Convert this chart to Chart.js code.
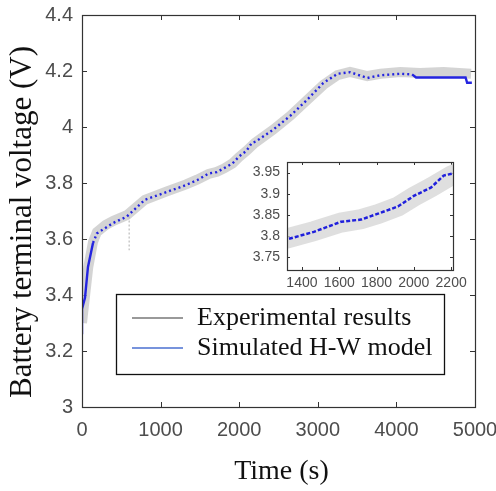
<!DOCTYPE html>
<html>
<head>
<meta charset="utf-8">
<script src="https://cdn.jsdelivr.net/npm/chart.js@4.4.0/dist/chart.umd.min.js"></script>
<style>
  html, body { margin: 0; padding: 0; background: #fff; }
  #wrap { position: relative; width: 496px; height: 491px; }
  #main { position: absolute; left: 0; top: 0; }
  #inset { position: absolute; left: 245px; top: 155px; }
</style>
</head>
<body>
<div id="wrap">
  <canvas id="main" width="496" height="491"></canvas>
  <canvas id="inset" width="230" height="145"></canvas>
</div>
<script>
// experimental results (centre of the grey band)
var expTime = [0, 40, 80, 140, 190, 300, 400, 570, 800, 1080, 1325, 1464, 1610, 1717, 1808, 1915, 2000, 2093, 2200, 2430, 2650, 2860, 3070, 3250, 3410, 3630, 3800, 4050, 4300, 4600, 4950];
var expVolt = [3.30, 3.40, 3.50, 3.59, 3.625, 3.65, 3.665, 3.685, 3.74, 3.77, 3.795, 3.812, 3.832, 3.84, 3.852, 3.87, 3.893, 3.915, 3.943, 3.99, 4.04, 4.095, 4.15, 4.185, 4.197, 4.182, 4.19, 4.196, 4.193, 4.196, 4.19];

// sensor drop-outs of the experimental trace
var dropTime = [0, 0, 300, 600, 600];
var dropVolt = [3.33, 3.14, null, 3.68, 3.56];

// simulated H-W model
var simTime = [0, 0, 38, 76, 140, 190, 395, 570, 800, 1080, 1325, 1464, 1610, 1717, 1808, 1915, 2000, 2093, 2160, 2210, 2430, 2650, 2860, 3070, 3250, 3410, 3630, 3800, 4050, 4200, 4250, 4880, 4900, 4960];
var simVolt = [3.26, 3.35, 3.39, 3.50, 3.586, 3.62, 3.657, 3.68, 3.74, 3.768, 3.793, 3.81, 3.834, 3.839, 3.853, 3.87, 3.895, 3.915, 3.943, 3.948, 3.99, 4.04, 4.096, 4.157, 4.19, 4.196, 4.175, 4.185, 4.19, 4.188, 4.177, 4.177, 4.158, 4.158];

var xTicks = [0, 1000, 2000, 3000, 4000, 5000];
var xTickLabels = ['0', '1000', '2000', '3000', '4000', '5000'];
var yTicks = [3, 3.2, 3.4, 3.6, 3.8, 4, 4.2, 4.4];
var yTickLabels = ['3', '3.2', '3.4', '3.6', '3.8', '4', '4.2', '4.4'];

var insetXTicks = [1400, 1600, 1800, 2000, 2200];
var insetXTickLabels = ['1400', '1600', '1800', '2000', '2200'];
var insetYTicks = [3.75, 3.8, 3.85, 3.9, 3.95];
var insetYTickLabels = ['3.75', '3.8', '3.85', '3.9', '3.95'];

var seriesLabels = ['Experimental results', 'Simulated H-W model'];
var xTitle = 'Time (s)';
var yTitle = 'Battery terminal voltage (V)';

function pts(xs, ys) {
    return xs.map(function (x, i) { return {x: x, y: ys[i]}; });
}

var tickFont = 'Liberation Sans, Arial, sans-serif';
var serifFont = 'Liberation Serif, Times New Roman, serif';

// box round the plot area plus MATLAB style inner tick marks
function boxPlugin(len) {
    return {
        id: 'box',
        beforeDatasetsDraw: function (chart) {
            var ctx = chart.ctx, a = chart.chartArea;
            ctx.save();
            ctx.strokeStyle = '#333';
            ctx.lineWidth = 1;
            chart.scales.x.ticks.forEach(function (t) {
                var px = Math.round(chart.scales.x.getPixelForValue(t.value)) + 0.5;
                ctx.beginPath();
                ctx.moveTo(px, a.bottom); ctx.lineTo(px, a.bottom - len);
                ctx.moveTo(px, a.top); ctx.lineTo(px, a.top + len);
                ctx.stroke();
            });
            chart.scales.y.ticks.forEach(function (t) {
                var py = Math.round(chart.scales.y.getPixelForValue(t.value)) + 0.5;
                ctx.beginPath();
                ctx.moveTo(a.left, py); ctx.lineTo(a.left + len, py);
                ctx.moveTo(a.right, py); ctx.lineTo(a.right - len, py);
                ctx.stroke();
            });
            ctx.restore();
        },
        afterDraw: function (chart) {
            var ctx = chart.ctx, a = chart.chartArea;
            ctx.save();
            ctx.strokeStyle = '#333';
            ctx.lineWidth = 1.2;
            ctx.strokeRect(Math.round(a.left) + 0.5, Math.round(a.top) + 0.5,
                Math.round(a.right - a.left), Math.round(a.bottom - a.top));
            ctx.restore();
        }
    };
}

var whiteArea = {
    id: 'whiteArea',
    beforeDraw: function (chart) {
        var a = chart.chartArea;
        chart.ctx.save();
        chart.ctx.fillStyle = '#fff';
        chart.ctx.fillRect(a.left, a.top, a.right - a.left, a.bottom - a.top);
        chart.ctx.restore();
    }
};

// axis titles, serif like the figure
var axisTitles = {
    id: 'axisTitles',
    afterDraw: function (chart) {
        var ctx = chart.ctx, a = chart.chartArea;
        ctx.save();
        ctx.fillStyle = '#111';
        ctx.textAlign = 'center';
        ctx.textBaseline = 'middle';
        ctx.font = '28px ' + serifFont;
        ctx.fillText(xTitle, (a.left + a.right) / 2 + 3, 472);
        ctx.translate(23, (a.top + a.bottom) / 2 + 11);
        ctx.rotate(-Math.PI / 2);
        ctx.font = '31px ' + serifFont;
        ctx.fillText(yTitle, 0, 0);
        ctx.restore();
    }
};

var boxLegend = {
    id: 'boxLegend',
    afterDraw: function (chart) {
        var ctx = chart.ctx, a = chart.chartArea;
        var left = a.left + 34, top = a.top + 279, w = 328, h = 80;
        ctx.save();
        ctx.fillStyle = '#fff';
        ctx.fillRect(left, top, w, h);
        ctx.strokeStyle = '#111';
        ctx.lineWidth = 1.3;
        ctx.strokeRect(left + 0.5, top + 0.5, w, h);
        var items = chart.data.datasets.filter(function (d) { return d.legendColor; });
        items.sort(function (p, q) { return q.order - p.order; });
        ctx.font = '26px ' + serifFont;
        ctx.textBaseline = 'middle';
        items.forEach(function (d, i) {
            var y = top + 24 + i * 30;
            ctx.strokeStyle = d.legendColor;
            ctx.lineWidth = 1.5;
            ctx.beginPath();
            ctx.moveTo(left + 16, y); ctx.lineTo(left + 67, y);
            ctx.stroke();
            ctx.fillStyle = '#111';
            ctx.fillText(d.label, left + 81, y);
        });
        ctx.restore();
    }
};

function fixedTicks(values) {
    return function (s) { s.ticks = values.map(function (v) { return {value: v}; }); };
}

function noPad(size, key) {
    return function (s) {
        s[key] = size;
        s.paddingLeft = 0; s.paddingRight = 0; s.paddingTop = 0; s.paddingBottom = 0;
    };
}

// solid where the simulated trace is dense (start and flat end), dotted elsewhere
var simDash = function (c) {
    var x = c.p0.parsed.x;
    return (x < 140 || x >= 4200) ? [] : [2, 3];
};

new Chart('main', {
    type: 'scatter',
    data: {
        datasets: [{
            label: seriesLabels[0],
            data: pts(expTime, expVolt),
            showLine: true,
            borderColor: 'rgba(198,198,198,0.75)',
            borderWidth: 10,
            pointRadius: 0,
            order: 3,
            legendColor: '#777'
        }, {
            label: 'drop',
            data: pts(dropTime, dropVolt),
            showLine: true,
            spanGaps: false,
            borderColor: '#bbb',
            borderWidth: 1.2,
            borderDash: [2, 2],
            pointRadius: 0,
            order: 2
        }, {
            label: seriesLabels[1],
            data: pts(simTime, simVolt),
            showLine: true,
            borderColor: '#2424e0',
            borderWidth: 2.4,
            borderDash: [2, 3],
            segment: {borderDash: simDash},
            pointRadius: 0,
            order: 1,
            legendColor: '#4a6fd0'
        }]
    },
    options: {
        responsive: false,
        animation: false,
        layout: {padding: {top: 15, right: 21, left: 0, bottom: 0}},
        plugins: {legend: {display: false}, tooltip: {enabled: false}},
        scales: {
            x: {
                type: 'linear', min: 0, max: 5000,
                afterBuildTicks: fixedTicks(xTicks),
                afterFit: noPad(84, 'height'),
                grid: {display: false, drawTicks: false},
                border: {display: false},
                ticks: {
                    font: {family: tickFont, size: 20}, color: '#4d4d4d',
                    padding: 11, maxRotation: 0, autoSkip: false,
                    callback: function (v, i) { return xTickLabels[i]; }
                }
            },
            y: {
                type: 'linear', min: 3, max: 4.4,
                afterBuildTicks: fixedTicks(yTicks),
                afterFit: noPad(82, 'width'),
                grid: {display: false, drawTicks: false},
                border: {display: false},
                ticks: {
                    font: {family: tickFont, size: 20}, color: '#4d4d4d',
                    padding: 9, autoSkip: false,
                    callback: function (v, i) { return yTickLabels[i]; }
                }
            }
        }
    },
    plugins: [boxPlugin(5), axisTitles, boxLegend]
});

new Chart('inset', {
    type: 'scatter',
    data: {
        datasets: [{
            label: seriesLabels[0],
            data: pts(expTime, expVolt),
            showLine: true,
            borderColor: 'rgba(212,212,212,0.75)',
            borderWidth: 20,
            pointRadius: 0,
            order: 2
        }, {
            label: seriesLabels[1],
            data: pts(simTime, simVolt),
            showLine: true,
            borderColor: '#2020dc',
            borderWidth: 2.5,
            borderDash: [4, 2],
            pointRadius: 0,
            order: 1
        }]
    },
    options: {
        responsive: false,
        animation: false,
        layout: {padding: {top: 7, right: 22, left: 0, bottom: 0}},
        plugins: {legend: {display: false}, tooltip: {enabled: false}},
        scales: {
            x: {
                type: 'linear', min: 1320, max: 2210,
                afterBuildTicks: fixedTicks(insetXTicks),
                afterFit: noPad(30, 'height'),
                grid: {display: false, drawTicks: false},
                border: {display: false},
                ticks: {
                    font: {family: tickFont, size: 14}, color: '#4d4d4d',
                    padding: 5, maxRotation: 0, autoSkip: false,
                    callback: function (v, i) { return insetXTickLabels[i]; }
                }
            },
            y: {
                type: 'linear', min: 3.72, max: 3.975,
                afterBuildTicks: fixedTicks(insetYTicks),
                afterFit: noPad(42, 'width'),
                grid: {display: false, drawTicks: false},
                border: {display: false},
                ticks: {
                    font: {family: tickFont, size: 14}, color: '#4d4d4d',
                    padding: 7, autoSkip: false,
                    callback: function (v, i) { return insetYTickLabels[i]; }
                }
            }
        }
    },
    plugins: [whiteArea, boxPlugin(3)]
});
</script>
</body>
</html>
